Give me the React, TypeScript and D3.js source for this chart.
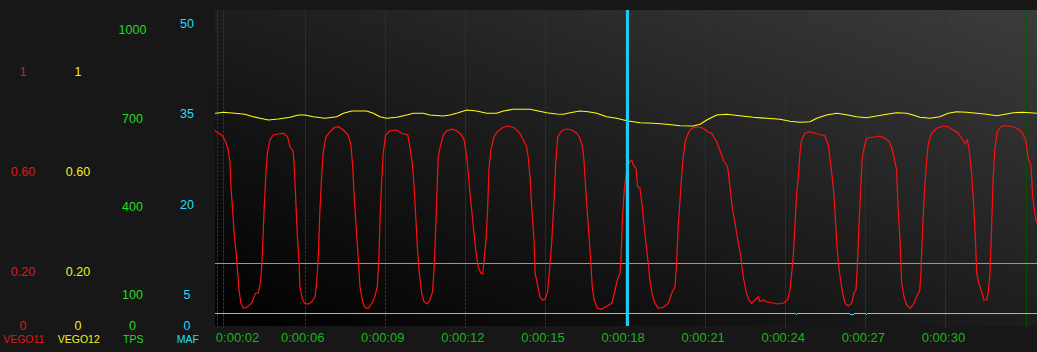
import React from "react";
import * as d3 from "d3";

// ---------- DATA ----------
const timeDomain: [number, number] = [2.64, 33.43];
const gridTimes = [2.72, 2.94, 6, 9, 12, 15, 18, 21, 24, 27, 30, 33];
const tickTimes = [2.72, 6, 9, 12, 15, 18, 21, 24, 27, 30];
const tickLabels = ["0:00:02", "0:00:06", "0:00:09", "0:00:12", "0:00:15", "0:00:18", "0:00:21", "0:00:24", "0:00:27", "0:00:30"];
const cursorTime = 18.09;

const vegoTicks = [1, 0.6, 0.2];
const vegoTickLabels = ["1", "0.60", "0.20"];
const tpsTicks = [1000, 700, 400, 100];
const mafTicks = [50, 35, 20, 5];
const axisNames = ["VEGO11", "VEGO12", "TPS", "MAF"];

// VEGO11 (red) [time s, value]
const vego11: [number, number][] = [
  [2.64, 0.77], [2.68, 0.765], [2.76, 0.76], [2.89, 0.752], [3.01, 0.732], [3.12, 0.70], [3.20, 0.645], [3.24, 0.54],
  [3.30, 0.452], [3.36, 0.352], [3.43, 0.285], [3.49, 0.20], [3.54, 0.132], [3.61, 0.079], [3.70, 0.059],
  [3.83, 0.063], [4.01, 0.079], [4.16, 0.119], [4.26, 0.119], [4.35, 0.165], [4.41, 0.265], [4.48, 0.452],
  [4.54, 0.585], [4.60, 0.679], [4.70, 0.732], [4.82, 0.752], [5.01, 0.756], [5.20, 0.759], [5.36, 0.745],
  [5.45, 0.705], [5.57, 0.685], [5.61, 0.625], [5.66, 0.505], [5.72, 0.359], [5.79, 0.239], [5.82, 0.145],
  [5.91, 0.099], [5.99, 0.079], [6.13, 0.076], [6.26, 0.085], [6.39, 0.105], [6.45, 0.165], [6.51, 0.265],
  [6.57, 0.452], [6.64, 0.599], [6.70, 0.692], [6.80, 0.745], [6.95, 0.765], [7.13, 0.783], [7.26, 0.785],
  [7.45, 0.772], [7.63, 0.752], [7.73, 0.712], [7.80, 0.625], [7.86, 0.492], [7.95, 0.345], [8.01, 0.252],
  [8.07, 0.145], [8.17, 0.085], [8.26, 0.061], [8.38, 0.059], [8.51, 0.079], [8.61, 0.099], [8.72, 0.145],
  [8.78, 0.265], [8.83, 0.439], [8.88, 0.559], [8.94, 0.679], [9.03, 0.752], [9.19, 0.769], [9.45, 0.772],
  [9.63, 0.759], [9.86, 0.752], [9.94, 0.705], [10.03, 0.639], [10.09, 0.559], [10.16, 0.425], [10.22, 0.305],
  [10.28, 0.212], [10.38, 0.119], [10.47, 0.085], [10.59, 0.076], [10.69, 0.092], [10.79, 0.125], [10.85, 0.225],
  [10.91, 0.385], [10.94, 0.479], [11.00, 0.665], [11.09, 0.712], [11.19, 0.752], [11.32, 0.769], [11.51, 0.775],
  [11.69, 0.769], [11.88, 0.752], [11.97, 0.732], [12.03, 0.692], [12.09, 0.645], [12.19, 0.519], [12.28, 0.425],
  [12.34, 0.359], [12.42, 0.279], [12.50, 0.225], [12.59, 0.201], [12.67, 0.196], [12.72, 0.252], [12.79, 0.332],
  [12.85, 0.452], [12.90, 0.612], [12.97, 0.692], [13.09, 0.745], [13.25, 0.769], [13.44, 0.783], [13.66, 0.788],
  [13.88, 0.779], [14.06, 0.759], [14.19, 0.732], [14.31, 0.705], [14.37, 0.665], [14.44, 0.585], [14.51, 0.452],
  [14.59, 0.332], [14.63, 0.199], [14.71, 0.159], [14.81, 0.105], [14.91, 0.092], [15.00, 0.095], [15.10, 0.125],
  [15.19, 0.239], [15.25, 0.319], [15.34, 0.492], [15.41, 0.652], [15.48, 0.745], [15.63, 0.769], [15.81, 0.776],
  [16.00, 0.772], [16.19, 0.759], [16.31, 0.739], [16.40, 0.705], [16.46, 0.652], [16.52, 0.545], [16.58, 0.452],
  [16.66, 0.332], [16.72, 0.239], [16.77, 0.145], [16.84, 0.092], [16.96, 0.059], [17.12, 0.055], [17.28, 0.065],
  [17.50, 0.079], [17.60, 0.119], [17.71, 0.172], [17.81, 0.199], [17.85, 0.265], [17.90, 0.412], [17.96, 0.519],
  [18.03, 0.592], [18.11, 0.632], [18.18, 0.645], [18.25, 0.652], [18.31, 0.632], [18.41, 0.619], [18.47, 0.545],
  [18.56, 0.539], [18.64, 0.465], [18.72, 0.385], [18.78, 0.319], [18.87, 0.239], [18.93, 0.172], [19.02, 0.112],
  [19.12, 0.079], [19.24, 0.059], [19.43, 0.063], [19.62, 0.079], [19.75, 0.119], [19.87, 0.145], [19.93, 0.239],
  [19.99, 0.385], [20.06, 0.492], [20.12, 0.592], [20.18, 0.665], [20.24, 0.719], [20.31, 0.745], [20.43, 0.772],
  [20.55, 0.781], [20.74, 0.785], [20.93, 0.779], [21.09, 0.765], [21.24, 0.759], [21.43, 0.725], [21.55, 0.692],
  [21.68, 0.652], [21.84, 0.625], [21.93, 0.545], [22.01, 0.465], [22.12, 0.399], [22.24, 0.319], [22.34, 0.265],
  [22.39, 0.212], [22.46, 0.165], [22.55, 0.119], [22.64, 0.092], [22.74, 0.079], [22.87, 0.092], [22.99, 0.105],
  [23.05, 0.085], [23.18, 0.092], [23.30, 0.085], [23.49, 0.081], [23.74, 0.076], [23.96, 0.081], [24.09, 0.092],
  [24.18, 0.132], [24.24, 0.199], [24.30, 0.265], [24.36, 0.385], [24.43, 0.519], [24.49, 0.585], [24.55, 0.679],
  [24.61, 0.732], [24.74, 0.759], [24.93, 0.765], [25.11, 0.759], [25.36, 0.752], [25.49, 0.748], [25.61, 0.712],
  [25.67, 0.665], [25.80, 0.545], [25.86, 0.452], [25.93, 0.319], [25.99, 0.239], [26.07, 0.172], [26.15, 0.119],
  [26.24, 0.079], [26.36, 0.068], [26.49, 0.079], [26.57, 0.119], [26.65, 0.132], [26.70, 0.225], [26.76, 0.385],
  [26.82, 0.519], [26.88, 0.659], [26.96, 0.705], [27.05, 0.739], [27.24, 0.743], [27.55, 0.748], [27.73, 0.739],
  [27.90, 0.725], [27.99, 0.699], [28.07, 0.665], [28.17, 0.612], [28.23, 0.452], [28.30, 0.332], [28.36, 0.159],
  [28.45, 0.105], [28.55, 0.072], [28.67, 0.059], [28.79, 0.072], [28.92, 0.105], [29.04, 0.132], [29.08, 0.199],
  [29.15, 0.385], [29.21, 0.519], [29.30, 0.652], [29.36, 0.719], [29.48, 0.759], [29.67, 0.779], [29.92, 0.788],
  [30.10, 0.785], [30.29, 0.772], [30.48, 0.759], [30.61, 0.739], [30.73, 0.719], [30.82, 0.732], [30.89, 0.692],
  [30.98, 0.599], [31.07, 0.452], [31.13, 0.319], [31.17, 0.199], [31.25, 0.159], [31.36, 0.125], [31.44, 0.092],
  [31.54, 0.092], [31.60, 0.119], [31.67, 0.199], [31.73, 0.385], [31.79, 0.585], [31.85, 0.692], [31.94, 0.765],
  [32.10, 0.788], [32.42, 0.788], [32.67, 0.779], [32.85, 0.765], [33.01, 0.732], [33.10, 0.659], [33.20, 0.632],
  [33.27, 0.505], [33.33, 0.452], [33.39, 0.412], [33.43, 0.40],
];

// VEGO12 (yellow) [time s, value]
const vego12: [number, number][] = [
  [2.64, 0.839], [2.68, 0.839], [2.95, 0.843], [3.39, 0.839], [3.76, 0.835], [4.07, 0.825], [4.33, 0.819], [4.64, 0.812],
  [5.01, 0.816], [5.45, 0.823], [5.76, 0.832], [6.01, 0.832], [6.32, 0.825], [6.76, 0.819], [7.20, 0.825],
  [7.45, 0.839], [7.76, 0.848], [8.32, 0.848], [8.57, 0.839], [8.82, 0.825], [9.07, 0.819], [9.45, 0.823],
  [9.82, 0.832], [10.07, 0.839], [10.44, 0.839], [10.69, 0.832], [11.19, 0.828], [11.44, 0.832], [11.69, 0.839],
  [12.07, 0.852], [12.44, 0.848], [12.82, 0.839], [13.19, 0.839], [13.44, 0.848], [13.81, 0.855], [14.44, 0.855],
  [14.75, 0.848], [15.06, 0.841], [15.44, 0.836], [15.69, 0.835], [15.94, 0.841], [16.31, 0.848], [16.62, 0.845],
  [16.94, 0.839], [17.31, 0.825], [17.69, 0.819], [18.06, 0.809], [18.56, 0.801], [19.06, 0.799], [19.56, 0.795],
  [20.06, 0.789], [20.55, 0.788], [20.81, 0.795], [21.06, 0.812], [21.43, 0.832], [21.81, 0.835], [22.30, 0.829],
  [22.80, 0.823], [23.30, 0.819], [23.80, 0.815], [24.18, 0.807], [24.55, 0.803], [24.93, 0.805], [25.18, 0.819],
  [25.55, 0.832], [25.93, 0.839], [26.30, 0.833], [26.67, 0.825], [27.05, 0.821], [27.42, 0.828], [27.80, 0.835],
  [28.17, 0.841], [28.55, 0.839], [28.79, 0.832], [29.04, 0.823], [29.42, 0.819], [29.79, 0.825], [30.10, 0.839],
  [30.42, 0.845], [30.79, 0.843], [31.17, 0.839], [31.54, 0.835], [31.92, 0.829], [32.29, 0.836], [32.54, 0.841],
  [32.91, 0.843], [33.43, 0.839],
];

// TPS (green) [time s, value]
const tps: [number, number][] = [
  [2.64, 212], [33.43, 212],
];

// MAF (cyan) [time s, value]
const maf: [number, number][] = [
  [2.64, 2.1], [24.38, 2.1], [24.43, 1.93], [24.48, 2.1], [26.40, 2.1], [26.45, 1.93], [26.55, 1.93],
  [26.60, 2.1], [27.00, 2.1], [27.05, 1.93], [27.10, 2.1], [33.43, 2.1],
];

// ---------- LAYOUT ----------
const W = 1037;
const H = 352;
const plot = { left: 215, right: 1037, top: 10, bottom: 326 };
const FONT = "'Liberation Sans', Arial, sans-serif";

const colors = {
  page: "#171717",
  vego11: "#ff1010",
  vego11Text: "#e01818",
  vego12: "#ffff10",
  vego12Text: "#f0f020",
  tps: "#33dd33",
  tpsText: "#22dd22",
  maf: "#30e6f4",
  mafText: "#22ddff",
  time: "#14b814",
  grid: "#0b4d0b",
  cursor: "#1ecbf2",
};

export default function App() {
  const x = d3.scaleLinear().domain(timeDomain).range([plot.left, plot.right]);
  const yVego = d3.scaleLinear().domain([0, 1]).range([323, 73]);
  const yTps = d3.scaleLinear().domain([0, 1000]).range([325.5, 31]);
  const yMaf = d3.scaleLinear().domain([0, 50]).range([326, 24.5]);

  const lineVego = d3.line<[number, number]>().x((d) => x(d[0])).y((d) => yVego(d[1]));
  const lineTps = d3.line<[number, number]>().x((d) => x(d[0])).y((d) => yTps(d[1]));
  const lineMaf = d3.line<[number, number]>().x((d) => x(d[0])).y((d) => yMaf(d[1]));

  const colX = [23, 78, 132.5, 187];
  const colText = [colors.vego11Text, colors.vego12Text, colors.tpsText, colors.mafText];

  return (
    <div style={{ position: "fixed", left: 0, top: 0, width: W, height: H, background: colors.page }}>
      <svg width={W} height={H} style={{ display: "block" }} fontFamily={FONT}>
        <defs>
          <linearGradient id="plotBg" x1="0" y1="1" x2="1" y2="0">
            <stop offset="0" stopColor="#000000" />
            <stop offset="0.5" stopColor="#1d1d1d" />
            <stop offset="1" stopColor="#3c3c3c" />
          </linearGradient>
          <clipPath id="plotClip">
            <rect x={plot.left} y={plot.top} width={plot.right - plot.left} height={plot.bottom - plot.top} />
          </clipPath>
        </defs>
        <rect x={0} y={0} width={W} height={H} fill={colors.page} />
        <rect
          x={plot.left}
          y={plot.top}
          width={plot.right - plot.left}
          height={plot.bottom - plot.top}
          fill="url(#plotBg)"
        />

        {/* vertical grid */}
        {gridTimes.map((t, i) => (
          <line
            key={"g" + i}
            x1={Math.round(x(t)) + 0.5}
            x2={Math.round(x(t)) + 0.5}
            y1={plot.top}
            y2={plot.bottom + 2}
            stroke={colors.grid}
            strokeWidth={1}
            strokeDasharray="3,1"
          />
        ))}

        <g clipPath="url(#plotClip)">
          <path d={lineTps(tps) || ""} fill="none" stroke={colors.tps} strokeWidth={1} shapeRendering="crispEdges" />
          <path d={lineMaf(maf) || ""} fill="none" stroke={colors.maf} strokeWidth={1} shapeRendering="crispEdges" />
          <path d={lineVego(vego12) || ""} fill="none" stroke={colors.vego12} strokeWidth={1.2} />
          <path d={lineVego(vego11) || ""} fill="none" stroke={colors.vego11} strokeWidth={1.2} />
        </g>

        {/* cursor */}
        <rect x={x(cursorTime) - 1.5} y={plot.top} width={3} height={plot.bottom - plot.top} fill={colors.cursor} />

        {/* time labels */}
        {tickTimes.map((t, i) => {
          const half = 21.5;
          const cx = Math.max(x(t) - 2, plot.left + 1 + half);
          return (
            <text
              key={"t" + i}
              x={cx}
              y={339}
              textAnchor="middle"
              dominantBaseline="middle"
              fontSize={13}
              fill={colors.time}
            >
              {tickLabels[i]}
            </text>
          );
        })}

        {/* left axes */}
        {vegoTicks.map((v, i) => (
          <text key={"v11" + i} x={colX[0]} y={yVego(v)} textAnchor="middle" dominantBaseline="middle" fontSize={12.5} fill={colors.vego11Text}>
            {vegoTickLabels[i]}
          </text>
        ))}
        {vegoTicks.map((v, i) => (
          <text key={"v12" + i} x={colX[1]} y={yVego(v)} textAnchor="middle" dominantBaseline="middle" fontSize={12.5} fill={colors.vego12Text}>
            {vegoTickLabels[i]}
          </text>
        ))}
        {tpsTicks.map((v, i) => (
          <text key={"tp" + i} x={colX[2]} y={yTps(v)} textAnchor="middle" dominantBaseline="middle" fontSize={12.5} fill={colors.tpsText}>
            {String(v)}
          </text>
        ))}
        {mafTicks.map((v, i) => (
          <text key={"mf" + i} x={colX[3]} y={yMaf(v)} textAnchor="middle" dominantBaseline="middle" fontSize={12.5} fill={colors.mafText}>
            {String(v)}
          </text>
        ))}
        {colX.map((cx, i) => (
          <text key={"z" + i} x={cx} y={327} textAnchor="middle" dominantBaseline="middle" fontSize={12.5} fill={colText[i]}>
            0
          </text>
        ))}
        {axisNames.map((n, i) => (
          <text key={"n" + i} x={colX[i] + 0.8} y={340.5} textAnchor="middle" dominantBaseline="middle" fontSize={10.5} fill={colText[i]}>
            {n}
          </text>
        ))}
      </svg>
    </div>
  );
}
